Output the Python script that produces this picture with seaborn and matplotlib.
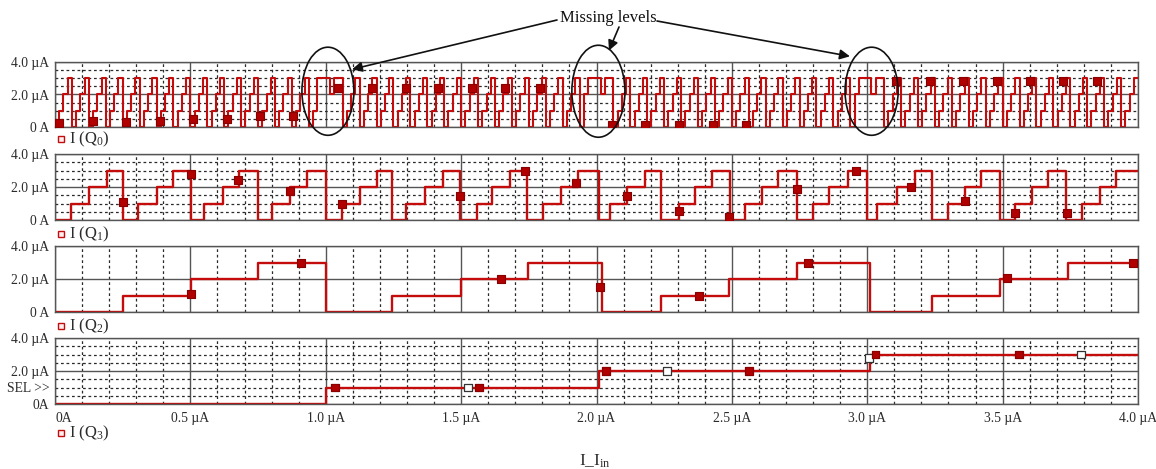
import numpy as np
import pandas as pd
import matplotlib
matplotlib.use("Agg")
import matplotlib.pyplot as plt
from matplotlib.patches import Ellipse
from matplotlib.lines import Line2D
from matplotlib.ticker import MultipleLocator, FixedLocator, NullLocator
import seaborn as sns

# ========== Data ==========
# sweep range of I_Iin (uA)
x_end = 4.0

# Q0: one string per 1/16 uA period, each char = level (uA) of a 1/64 uA step
q0_step = 0.015625
q0_periods = [
    "0123", "0123", "0123", "0123", "0123", "0123", "0123", "0123",
    "0123", "0123", "0123", "0123", "0123", "0123", "0123", "0133",
    "3233", "0123", "0123", "0123", "0123", "0123", "0123", "0123",
    "0123", "0123", "0123", "0123", "0123", "0123", "0123", "0233",
    "3233", "0123", "0123", "0123", "0123", "0123", "0123", "0123",
    "0123", "0123", "0123", "0123", "0123", "0123", "0123", "0233",
    "3233", "0123", "0123", "0123", "0123", "0123", "0123", "0123",
    "0123", "0123", "0123", "0123", "0123", "0123", "0123", "0123",
]
q0_marker_x = [0.015, 0.140, 0.262, 0.388, 0.510, 0.635, 0.757, 0.879,
               1.045, 1.171, 1.296, 1.415, 1.540, 1.662, 1.791,
               2.057, 2.179, 2.305, 2.430, 2.552,
               3.106, 3.232, 3.354, 3.479, 3.601, 3.723, 3.849]
q0_marker_y = [0.25, 0.4, 0.3, 0.4, 0.5, 0.5, 0.7, 0.7,
               2.4, 2.4, 2.4, 2.4, 2.4, 2.4, 2.4,
               0.15, 0.15, 0.15, 0.15, 0.15,
               2.8, 2.8, 2.8, 2.8, 2.8, 2.8, 2.8]

# Q1: start of level 0,1,2,3 inside each 0.25 uA period
q1_edges = [
    [0.000, 0.059, 0.126, 0.193], [0.252, 0.308, 0.376, 0.437],
    [0.501, 0.550, 0.619, 0.681], [0.751, 0.800, 0.868, 0.929],
    [1.000, 1.059, 1.126, 1.188], [1.243, 1.298, 1.366, 1.434],
    [1.496, 1.557, 1.613, 1.680], [1.743, 1.804, 1.870, 1.930],
    [2.010, 2.049, 2.111, 2.179], [2.240, 2.303, 2.364, 2.426],
    [2.493, 2.548, 2.610, 2.672], [2.740, 2.800, 2.860, 2.930],
    [2.998, 3.035, 3.109, 3.176], [3.238, 3.300, 3.360, 3.420],
    [3.490, 3.546, 3.607, 3.669], [3.734, 3.795, 3.860, 3.920],
]
q1_levels = [0, 1, 2, 3]
q1_marker_x = [0.252, 0.501, 0.677, 0.868, 1.059, 1.496, 1.736, 1.924, 2.111,
               2.305, 2.490, 2.742, 2.959, 3.161, 3.361, 3.546, 3.737]
q1_marker_y = [1.1, 2.8, 2.45, 1.75, 1.0, 1.45, 3.0, 2.25, 1.45,
               0.55, 0.2, 1.85, 3.0, 2.0, 1.15, 0.45, 0.45]

# Q2
q2_edges = [0.0, 0.25, 0.502, 0.75, 1.0, 1.245, 1.5, 1.747, 2.02,
            2.24, 2.49, 2.74, 3.01, 3.24, 3.49, 3.74]
q2_levels = [0, 1, 2, 3, 0, 1, 2, 3, 0, 1, 2, 3, 0, 1, 2, 3]
q2_marker_x = [0.501, 0.909, 1.647, 2.013, 2.379, 2.78, 3.515, 3.98]
q2_marker_y = [1.12, 2.98, 2.0, 1.52, 1.0, 2.99, 2.04, 3.0]

# Q3
q3_edges = [0.0, 1.0, 2.01, 3.01]
q3_levels = [0, 1, 2, 3]
q3_marker_x = [1.034, 1.525, 1.566, 2.035, 2.26, 2.563, 3.006, 3.03, 3.56, 3.79]
q3_marker_y = [1.0, 1.0, 1.0, 2.0, 2.0, 2.0, 2.8, 3.0, 3.0, 3.0]
q3_hollow = [False, True, False, False, True, False, True, False, False, True]

x_ticks = [0.0, 0.5, 1.0, 1.5, 2.0, 2.5, 3.0, 3.5, 4.0]
x_tick_labels = ["0A", "0.5 µA", "1.0 µA", "1.5 µA", "2.0 µA",
                 "2.5 µA", "3.0 µA", "3.5 µA", "4.0 µA"]
y_tick_labels = ["0 A", "2.0 µA", "4.0 µA"]
trace_names = ["I (Q$_0$)", "I (Q$_1$)", "I (Q$_2$)", "I (Q$_3$)"]


def step_frame(edges, levels):
    x = list(edges) + [x_end]
    y = list(levels) + [levels[-1]]
    return pd.DataFrame({"x": x, "y": y})


q0_levels = [int(c) for p in q0_periods for c in p]
q0_df = step_frame([i * q0_step for i in range(len(q0_levels))], q0_levels)
q1_df = step_frame([e for p in q1_edges for e in p], q1_levels * len(q1_edges))
q2_df = step_frame(q2_edges, q2_levels)
q3_df = step_frame(q3_edges, q3_levels)

# ========== Style ==========
sns.set_theme(style="white")
plt.rcParams["font.family"] = ["Liberation Serif", "DejaVu Serif"]
plt.rcParams["mathtext.fontset"] = "custom"
plt.rcParams["mathtext.rm"] = "Liberation Serif"
plt.rcParams["mathtext.it"] = "Liberation Serif:italic"

RED = "#c40c0c"
DARK = "#8a0000"
TXT = "#2b2b2b"
FS = 9.8

W, H = 1156, 469
fig = plt.figure(figsize=(W / 100, H / 100), dpi=100)
panel_px = [(62, 127), (154, 220), (246, 312), (338, 404)]
axes = [fig.add_axes([55 / W, 1 - b / H, 1083 / W, (b - t) / H]) for t, b in panel_px]

for i, ax in enumerate(axes):
    ax.set_xlim(0, x_end)
    ax.set_ylim(0, 4)
    ax.xaxis.set_major_locator(FixedLocator(x_ticks))
    ax.xaxis.set_minor_locator(MultipleLocator(0.1))
    ax.yaxis.set_major_locator(FixedLocator([0, 2, 4]))
    ax.set_yticklabels(y_tick_labels)
    if i == 2:
        ax.yaxis.set_minor_locator(NullLocator())
    else:
        ax.yaxis.set_minor_locator(MultipleLocator(0.5))
    ax.set_axisbelow(True)
    ax.grid(which="major", color="#555555", lw=1.0, ls="-")
    ax.grid(which="minor", color="#2a2a2a", lw=0.9, ls=(0, (2.2, 2.2)))
    for sp in ax.spines.values():
        sp.set_color("#555555")
        sp.set_linewidth(1.0)
    ax.tick_params(axis="y", which="major", length=3, width=0.8, color="#555555",
                   labelsize=FS, labelcolor=TXT, pad=1)
    ax.tick_params(axis="y", which="minor", length=0, labelsize=FS,
                   labelcolor=TXT, pad=4)
    ax.tick_params(axis="x", which="both", length=0, labelbottom=False,
                   labelsize=FS, labelcolor=TXT)
    ax.set_xlabel("")
    ax.set_ylabel("")

# panel 4: SEL >> tick and x labels
axes[3].set_yticks([0, 2, 4], labels=["0A", "2.0 µA", "4.0 µA"])
axes[3].set_yticks([0.5, 1.0, 1.5, 2.5, 3.0, 3.5],
                   labels=["", "SEL >>", "", "", "", ""], minor=True)
axes[3].set_xticks(x_ticks, labels=x_tick_labels)
axes[3].tick_params(axis="x", which="major", labelbottom=True, length=4,
                    width=0.8, color="#555555", pad=2)
axes[3].tick_params(axis="x", which="minor", length=2, width=0.8, color="#555555")
axes[3].get_xticklabels()[0].set_ha("left")

# ========== Traces ==========
for ax, df, lw in zip(axes, [q0_df, q1_df, q2_df, q3_df], [1.5, 1.7, 1.7, 1.7]):
    sns.lineplot(data=df, x="x", y="y", ax=ax, estimator=None, sort=False,
                 drawstyle="steps-post", color=RED, lw=lw, legend=False)
    ax.set_xlabel("")
    ax.set_ylabel("")

marker_sets = [(q0_marker_x, q0_marker_y), (q1_marker_x, q1_marker_y),
               (q2_marker_x, q2_marker_y)]
for ax, (mx, my) in zip(axes[:3], marker_sets):
    sns.scatterplot(x=mx, y=my, ax=ax, marker="s", s=30, color="#b00000",
                    edgecolor=DARK, linewidth=0.8, zorder=4, legend=False)

q3_fill = ["white" if h else "#b00000" for h in q3_hollow]
q3_edge = ["#333333" if h else DARK for h in q3_hollow]
axes[3].scatter(q3_marker_x, q3_marker_y, marker="s", s=30, c=q3_fill,
                edgecolors=q3_edge, linewidths=0.9, zorder=4)

# ========== Legends under panels ==========
legend_px = [139, 234, 326, 433]
for name, py in zip(trace_names, legend_px):
    fig.add_artist(Line2D([61 / W], [1 - py / H], marker="s", ms=4.5, mfc="#fff0f0",
                          mec=RED, mew=1.0, transform=fig.transFigure))
    fig.text(69 / W, 1 - py / H, name, ha="left", va="center",
             fontsize=12, color=TXT)

fig.text(595 / W, 1 - 461 / H, "I_I$_\\mathrm{in}$", ha="center", va="center",
         fontsize=12.5, color=TXT)

# ========== Missing levels annotation ==========
fig.text(608 / W, 1 - 18 / H, "Missing levels", ha="center", va="center",
         fontsize=12, color="#111111")
ax1 = axes[0]
for cx, w, h in [(1.008, 0.192, 5.42), (2.007, 0.196, 5.66), (3.016, 0.196, 5.42)]:
    ax1.add_patch(Ellipse((cx, 2.2), width=w, height=h, fill=False, ec="#111111",
                          lw=1.2, clip_on=False, zorder=6))

arrows = [((557, 20), (1.097, 3.55)), ((619, 27), (2.046, 4.7)), ((657, 21), (2.936, 4.35))]
for (tx, ty), head in arrows:
    ax1.annotate("", xy=head, xycoords="data",
                 xytext=(tx / W, 1 - ty / H), textcoords="figure fraction",
                 annotation_clip=False,
                 arrowprops=dict(arrowstyle="-|>", color="#111111", lw=1.2,
                                 mutation_scale=15, shrinkA=0, shrinkB=0))

fig.savefig("out.png", dpi=100)
